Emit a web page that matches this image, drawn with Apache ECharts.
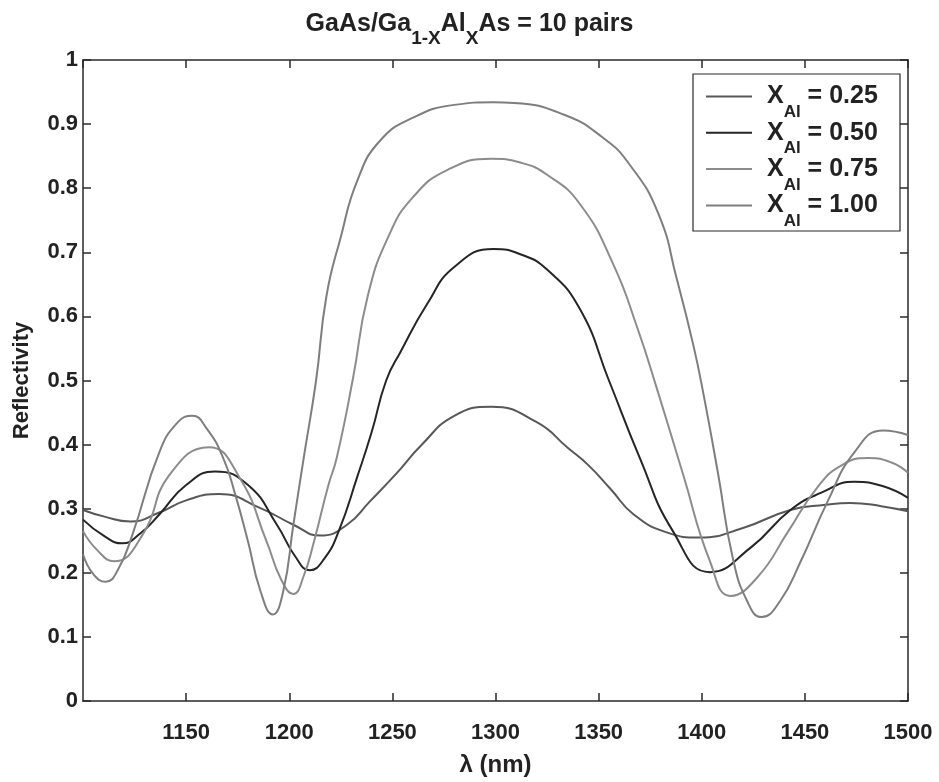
<!DOCTYPE html>
<html>
<head>
<meta charset="utf-8">
<script src="https://cdn.jsdelivr.net/npm/echarts@6/dist/echarts.min.js"></script>
<style>
html,body{margin:0;padding:0;background:#fff;}
#chart{width:939px;height:782px;}
</style>
</head>
<body>
<div id="chart"></div>
<script>
// Wavelength (nm) and reflectivity, per composition
const seriesNames = ['0.25', '0.50', '0.75', '1.00'];

const wl025 = [1100, 1110, 1123, 1137, 1150, 1166, 1186, 1202, 1215, 1228, 1239, 1252, 1264, 1280, 1298, 1320, 1335, 1345, 1356, 1367, 1383, 1399, 1420, 1443, 1460, 1472, 1487, 1500];
const r025  = [0.298, 0.288, 0.280, 0.294, 0.313, 0.323, 0.301, 0.275, 0.258, 0.275, 0.311, 0.355, 0.399, 0.445, 0.459, 0.435, 0.395, 0.368, 0.330, 0.291, 0.263, 0.255, 0.270, 0.298, 0.306, 0.309, 0.304, 0.296];

const wl050 = [1100, 1110, 1119, 1128, 1137, 1150, 1164, 1180, 1194, 1203, 1210, 1217, 1224, 1233, 1240, 1247, 1254, 1267, 1280, 1299, 1312, 1325, 1341, 1355, 1370, 1386, 1404, 1424, 1443, 1458, 1474, 1488, 1500];
const r050  = [0.283, 0.258, 0.246, 0.262, 0.291, 0.337, 0.358, 0.337, 0.275, 0.225, 0.204, 0.222, 0.265, 0.350, 0.420, 0.500, 0.545, 0.620, 0.677, 0.705, 0.697, 0.673, 0.611, 0.500, 0.379, 0.265, 0.201, 0.240, 0.298, 0.325, 0.342, 0.335, 0.317];

const wl075 = [1100, 1107, 1115, 1129, 1142, 1161, 1176, 1189, 1196, 1202, 1207, 1212, 1219, 1223, 1231, 1238, 1248, 1260, 1277, 1298, 1312, 1325, 1341, 1357, 1369, 1378, 1391, 1404, 1414, 1427, 1442, 1456, 1468, 1481, 1492, 1500];
const r075  = [0.265, 0.235, 0.218, 0.260, 0.353, 0.396, 0.348, 0.249, 0.190, 0.167, 0.195, 0.249, 0.337, 0.379, 0.505, 0.631, 0.724, 0.786, 0.829, 0.846, 0.840, 0.821, 0.775, 0.682, 0.580, 0.490, 0.353, 0.218, 0.164, 0.193, 0.265, 0.333, 0.368, 0.379, 0.372, 0.356];

const wl100 = [1100, 1105, 1111, 1117, 1124, 1137, 1146, 1153, 1160, 1168, 1174, 1180, 1186, 1192, 1197, 1202, 1207, 1213, 1218, 1225, 1233, 1244, 1260, 1280, 1299, 1309, 1333, 1352, 1365, 1379, 1388, 1396, 1401, 1408, 1415, 1422, 1429, 1438, 1448, 1461, 1474, 1488, 1500];
const r100  = [0.229, 0.198, 0.186, 0.205, 0.260, 0.388, 0.435, 0.445, 0.425, 0.379, 0.320, 0.249, 0.172, 0.135, 0.170, 0.275, 0.379, 0.500, 0.631, 0.724, 0.812, 0.874, 0.910, 0.930, 0.934, 0.933, 0.915, 0.879, 0.837, 0.760, 0.657, 0.554, 0.476, 0.353, 0.224, 0.156, 0.131, 0.156, 0.218, 0.311, 0.388, 0.422, 0.415];

const wls = [wl025, wl050, wl075, wl100];
const refls = [r025, r050, r075, r100];
const colors = ['#585858', '#252525', '#8c8c8c', '#7e7e7e'];

const FONT = 'Liberation Sans, Arial, sans-serif';

const chart = echarts.init(document.getElementById('chart'), null, {renderer: 'canvas'});

const series = seriesNames.map((n, k) => ({
  name: n,
  type: 'line',
  xAxisIndex: 0,
  yAxisIndex: 0,
  symbol: 'none',
  smooth: 0.5,
  lineStyle: {color: colors[k], width: 2},
  itemStyle: {color: colors[k]},
  data: wls[k].map((x, i) => [x, refls[k][i]])
}));

const axisLineStyle = {color: '#2a2a2a', width: 1.5};

chart.setOption({
  animation: false,
  backgroundColor: '#ffffff',
  title: {
    text: '{b|GaAs/Ga}{s|1-X}{b|Al}{s|X}{b|As = 10 pairs}',
    left: 'center',
    top: 10,
    padding: 0,
    textStyle: {
      rich: {
        b: {fontFamily: FONT, fontWeight: 'bold', fontSize: 25, color: '#222', lineHeight: 28},
        s: {fontFamily: FONT, fontWeight: 'bold', fontSize: 19, color: '#222', lineHeight: 20, padding: [30, 0, 0, 0]}
      }
    }
  },
  grid: {left: 83, right: 31, top: 60, bottom: 74, containLabel: false},
  legend: {
    orient: 'vertical',
    left: 706,
    top: 72,
    padding: 0,
    icon: 'rect',
    itemWidth: 46,
    itemHeight: 2,
    itemGap: -12.7,
    data: seriesNames,
    formatter: n => '{b|X}{s|Al}{b| = ' + n + '}',
    textStyle: {
      padding: [0, 0, 0, 10],
      rich: {
        b: {fontFamily: FONT, fontWeight: 'bold', fontSize: 25, color: '#222', lineHeight: 28},
        s: {fontFamily: FONT, fontWeight: 'bold', fontSize: 17, color: '#222', lineHeight: 18, padding: [32, 0, 0, 0]}
      }
    }
  },
  graphic: [{
    type: 'rect',
    shape: {x: 693, y: 74, width: 207, height: 157},
    style: {fill: 'none', stroke: '#2a2a2a', lineWidth: 1.2},
    z: 100
  }],
  xAxis: [{
    type: 'value',
    position: 'bottom',
    min: 1100, max: 1500, interval: 50,
    name: 'λ (nm)',
    nameLocation: 'middle',
    nameGap: 52,
    nameTextStyle: {fontFamily: FONT, fontWeight: 'bold', fontSize: 24, color: '#222'},
    axisLine: {show: true, lineStyle: axisLineStyle},
    axisTick: {show: true, inside: true, length: 8, lineStyle: axisLineStyle},
    axisLabel: {showMinLabel: false, margin: 21, fontFamily: FONT, fontWeight: 'bold', fontSize: 22, color: '#222', formatter: v => String(v)},
    splitLine: {show: false}
  }, {
    type: 'value',
    position: 'top',
    min: 1100, max: 1500, interval: 50,
    axisLine: {show: true, onZero: false, lineStyle: axisLineStyle},
    axisTick: {show: true, inside: true, length: 8, lineStyle: axisLineStyle},
    axisLabel: {show: false},
    splitLine: {show: false}
  }],
  yAxis: [{
    type: 'value',
    position: 'left',
    min: 0, max: 1, interval: 0.1,
    name: 'Reflectivity',
    nameLocation: 'middle',
    nameGap: 50,
    nameTextStyle: {fontFamily: FONT, fontWeight: 'bold', fontSize: 22, color: '#222'},
    axisLine: {show: true, lineStyle: axisLineStyle},
    axisTick: {show: true, inside: true, length: 8, lineStyle: axisLineStyle},
    axisLabel: {margin: 5, fontFamily: FONT, fontWeight: 'bold', fontSize: 22, color: '#222'},
    splitLine: {show: false}
  }, {
    type: 'value',
    position: 'right',
    min: 0, max: 1, interval: 0.1,
    axisLine: {show: true, onZero: false, lineStyle: axisLineStyle},
    axisTick: {show: true, inside: true, length: 8, lineStyle: axisLineStyle},
    axisLabel: {show: false},
    splitLine: {show: false}
  }],
  series: series
});
</script>
</body>
</html>
